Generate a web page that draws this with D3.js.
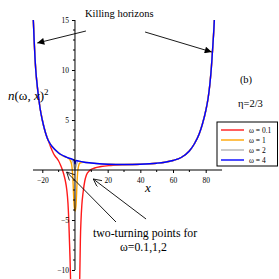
<!DOCTYPE html>
<html>
<head>
<meta charset="utf-8">
<script src="https://cdn.jsdelivr.net/npm/d3@7"></script>
<style>
  body { margin: 0; background: #fff; }
  svg { display: block; }
  svg text { font-family: "Liberation Serif", "Times New Roman", serif; }
</style>
</head>
<body>
<svg width="279" height="279"></svg>
<script>
// series: [x, n^2] pairs (null = break)
const omega4 = [[-25.5,15],[-25,13],[-24.5,11.3],[-24,10],[-23,8.3],[-22,6.9],[-21,5.8],[-20,5.0],[-19,4.3],[-18,3.7],[-17,3.2],[-16,2.85],[-14,2.35],[-12,2.0],[-10,1.7],[-8,1.5],[-6,1.35],[-4,1.2],[-2,1.1],[-0.6,1.0],[0,0.6],[0.6,0.95],[2,0.9],[5,0.8],[10,0.7],[15,0.62],[20,0.58],[30,0.55],[40,0.58],[50,0.68],[55,0.78],[60,0.95],[65,1.25],[70,1.9],[73,2.6],[76,3.6],[78,4.6],[80,5.9],[81.5,7.2],[82.5,8.5],[83.5,10.3],[84.2,12],[84.8,13.5],[85.3,15]];
const omega2 = [[-25.5,15],[-24,10],[-22,6.9],[-20,5.0],[-18,3.7],[-16,2.85],[-12,2.0],[-8,1.5],[-4,1.2],[-2,1.05],[-1,0.7],[-0.4,0.2],[0,0.1],[0.5,0.3],[1.2,0.7],[2,0.88],[5,0.8],[10,0.7],[20,0.58],[30,0.55],[40,0.58],[50,0.68],[60,0.95],[65,1.25],[70,1.9],[73,2.6],[76,3.6],[78,4.6],[80,5.9],[82.5,8.5],[84.2,12],[85.3,15]];
const omega1 = [[-25.5,15],[-24,10],[-22,6.9],[-20,5.0],[-18,3.7],[-16,2.85],[-12,2.0],[-8,1.45],[-5,1.25],[-3,1.0],[-2,0.5],[-1.5,-0.3],[-1.1,-1.5],[-0.8,-2.7],[-0.5,-3.6],[0.1,-4.1],[0.6,-3.6],[0.9,-2.7],[1.2,-1.5],[1.6,-0.3],[2.2,0.4],[3,0.7],[5,0.78],[10,0.7],[20,0.58],[30,0.55],[40,0.58],[50,0.68],[60,0.95],[65,1.25],[70,1.9],[73,2.6],[76,3.6],[78,4.6],[80,5.9],[82.5,8.5],[84.2,12],[85.3,15]];
const omega01 = [[-25.5,15],[-25,13],[-24,10],[-23,8.3],[-22,6.9],[-20,5.0],[-18,3.7],[-16,2.8],[-15,2.35],[-14,1.95],[-13,1.6],[-12,1.35],[-11,1.15],[-10,0.9],[-9,0.55],[-8,0.15],[-7,-0.35],[-6,-1.0],[-5,-2.0],[-4.3,-3.3],[-3.8,-5],[-3.4,-7],[-3.0,-9],[-2.7,-11],null,[2.9,-11],[3.1,-9],[3.3,-7],[3.7,-5],[4.2,-3.5],[5,-2.2],[6,-1.1],[7,-0.5],[9,-0.05],[12,0.2],[16,0.35],[22,0.45],[30,0.52],[40,0.57],[50,0.68],[55,0.78],[60,0.95],[65,1.25],[70,1.9],[73,2.6],[76,3.6],[78,4.6],[80,5.9],[81.5,7.2],[82.5,8.5],[83.5,10.3],[84.2,12],[84.8,13.5],[85.3,15]];

const seriesNames = ["ω = 0.1", "ω = 1", "ω = 2", "ω = 4"];
const seriesColors = ["#ff1a1a", "#ffa500", "#b4b4b4", "#0000ff"];
const seriesData = [omega01, omega1, omega2, omega4];

const xTicks = [-20, 20, 40, 60, 80];
const xMinor = [-10, 10, 30, 50, 70];
const yTicks = [-10, -5, 5, 10, 15];
const yMinor = d3.range(-10, 16).filter(d => d !== 0 && d % 5 !== 0);

const svg = d3.select("svg");

const x = d3.scaleLinear().domain([-20, 80]).range([42.3, 205.7]);
const y = d3.scaleLinear().domain([-10, 15]).range([270, 20]);

// curves
const line = d3.line()
    .defined(d => d !== null)
    .x(d => x(d[0]))
    .y(d => y(d[1]))
    .curve(d3.curveMonotoneX);

svg.append("g").selectAll("path")
    .data(seriesData)
    .enter()
    .append("path")
    .attr("fill", "none")
    .attr("stroke", (d, i) => seriesColors[i])
    .attr("stroke-width", 1.4)
    .attr("d", line);

// x axis
const gx = svg.append("g").attr("transform", `translate(0, ${y(0)})`);
gx.call(d3.axisBottom(x).tickValues(xTicks).tickSize(3).tickFormat(d3.format("d")))
    .call(g => g.select(".domain").attr("d", `M${x(-25.7)},0H${x(90)}`))
    .attr("font-family", null)
    .selectAll("text")
    .attr("font-size", "7.5px")
    .attr("dy", "0.9em");
gx.selectAll(".minor")
    .data(xMinor).enter()
    .append("line").attr("class", "minor")
    .attr("x1", d => x(d)).attr("x2", d => x(d))
    .attr("y1", 0).attr("y2", 2)
    .attr("stroke", "#000");

// y axis
const gy = svg.append("g").attr("transform", `translate(${x(0)}, 0)`);
gy.call(d3.axisLeft(y).tickValues(yTicks).tickSize(3).tickFormat(d3.format("d")))
    .call(g => g.select(".domain").attr("d", `M0,${y(15)}V${y(-10)}`))
    .attr("font-family", null)
    .selectAll("text")
    .attr("font-size", "7.5px");
gy.selectAll(".minor")
    .data(yMinor).enter()
    .append("line").attr("class", "minor")
    .attr("x1", -2).attr("x2", 0)
    .attr("y1", d => y(d)).attr("y2", d => y(d))
    .attr("stroke", "#000");

// axis labels
svg.append("text")
    .attr("x", 8).attr("y", 100)
    .attr("font-size", "13px")
    .html('<tspan font-style="italic">n</tspan>(ω, <tspan font-style="italic">x</tspan>)<tspan dy="-5" font-size="9px">2</tspan>');

svg.append("text")
    .attr("x", 145).attr("y", 192)
    .attr("font-size", "13px")
    .attr("font-style", "italic")
    .text("x");

// arrow markers
const defs = svg.append("defs");
defs.append("marker")
    .attr("id", "solid").attr("viewBox", "0 0 10 10")
    .attr("refX", 10).attr("refY", 5)
    .attr("markerWidth", 9).attr("markerHeight", 7)
    .attr("markerUnits", "userSpaceOnUse")
    .attr("orient", "auto")
    .append("path").attr("d", "M0,0L10,5L0,10z").attr("fill", "#000");
defs.append("marker")
    .attr("id", "open").attr("viewBox", "0 0 10 10")
    .attr("refX", 10).attr("refY", 5)
    .attr("markerWidth", 9).attr("markerHeight", 8)
    .attr("markerUnits", "userSpaceOnUse")
    .attr("orient", "auto")
    .append("path").attr("d", "M0,0L10,5L0,10").attr("fill", "none").attr("stroke", "#000");

// annotations, in data coordinates
const horizonArrows = [[[6.7, 13.9], [-23.1, 12.7]], [[42.9, 13.8], [83.7, 11.8]]];
const turningArrows = [[[25.1, -5.2], [-5.1, -0.2]], [[43.5, -4.9], [11.2, -0.9]]];

svg.selectAll(".harrow")
    .data(horizonArrows).enter()
    .append("line").attr("class", "harrow")
    .attr("x1", d => x(d[0][0])).attr("y1", d => y(d[0][1]))
    .attr("x2", d => x(d[1][0])).attr("y2", d => y(d[1][1]))
    .attr("stroke", "#000").attr("stroke-width", 0.9)
    .attr("marker-end", "url(#solid)");

svg.selectAll(".tarrow")
    .data(turningArrows).enter()
    .append("line").attr("class", "tarrow")
    .attr("x1", d => x(d[0][0])).attr("y1", d => y(d[0][1]))
    .attr("x2", d => x(d[1][0])).attr("y2", d => y(d[1][1]))
    .attr("stroke", "#000").attr("stroke-width", 0.9)
    .attr("marker-end", "url(#open)");

svg.append("text").attr("x", 85).attr("y", 17)
    .attr("font-size", "10.5px").text("Killing horizons");
svg.append("text").attr("x", 246).attr("y", 83)
    .attr("font-size", "10.5px").attr("text-anchor", "middle").text("(b)");
svg.append("text").attr("x", 238).attr("y", 107)
    .attr("font-size", "10.5px").text("η=2/3");
svg.append("text").attr("x", 93).attr("y", 237)
    .attr("font-size", "11.8px").text("two-turning points for");
svg.append("text").attr("x", 120).attr("y", 251)
    .attr("font-size", "11.8px").text("ω=0.1,1,2");

// legend
const legend = svg.append("g").attr("transform", "translate(217, 122)");
legend.append("rect")
    .attr("width", 60.5).attr("height", 44)
    .attr("fill", "#fff").attr("stroke", "#000").attr("stroke-width", 1);
const item = legend.selectAll(".item")
    .data(seriesNames).enter()
    .append("g").attr("class", "item")
    .attr("transform", (d, i) => `translate(0, ${8 + i * 10})`);
item.append("line")
    .attr("x1", 4).attr("x2", 27)
    .attr("stroke", (d, i) => seriesColors[i])
    .attr("stroke-width", 1.4);
item.append("text")
    .attr("x", 32).attr("y", 2.5)
    .attr("font-size", "7.5px")
    .text(d => d);
</script>
</body>
</html>
